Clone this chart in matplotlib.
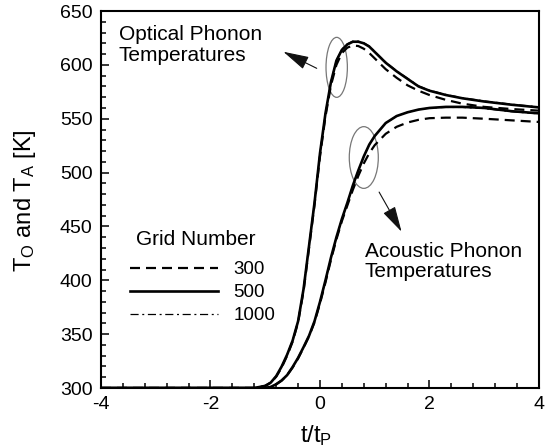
import matplotlib
matplotlib.use('Agg')
import matplotlib.pyplot as plt
from matplotlib.patches import Ellipse
from matplotlib.ticker import MultipleLocator

plt.rcParams['font.family'] = ['Liberation Sans', 'DejaVu Sans']
plt.rcParams['mathtext.fontset'] = 'custom'
plt.rcParams['mathtext.rm'] = 'Liberation Sans'
plt.rcParams['mathtext.it'] = 'Liberation Sans:italic'
plt.rcParams['mathtext.bf'] = 'Liberation Sans:bold'
plt.rcParams['axes.unicode_minus'] = False

# ---------------- data ----------------
t_opt = [-4.0, -1.2, -1.0, -0.9, -0.8, -0.7, -0.6, -0.5, -0.4, -0.3, -0.2, -0.1,
         0.0, 0.1, 0.2, 0.3, 0.4, 0.5, 0.6, 0.7, 0.8, 0.9, 1.0, 1.2, 1.4, 1.6,
         1.8, 2.0, 2.3, 2.6, 3.0, 3.5, 4.0]
opt_500 = [300, 300, 302, 305, 311, 320, 331, 344, 362, 392, 432, 472,
           518, 555, 584, 604, 614, 619, 621.5, 621.5, 620, 617, 612, 602, 594, 587,
           580, 576, 572, 569, 566, 563, 560.5]
opt_300 = [300, 300, 302, 305, 310.5, 319, 330, 343, 361, 390, 430, 470,
           515, 552, 581, 600, 611, 616, 618, 617.5, 615, 611, 606, 596, 588, 581,
           576, 572, 567.5, 564, 561, 559, 557.5]
opt_1000 = [300, 300, 302, 305, 311, 320, 331, 344.5, 362.5, 392.5, 432.5, 472.5,
            518.5, 555.5, 584.5, 604.5, 614.5, 619.5, 622, 622, 620.5, 617.5, 612.5, 602.5, 594.5, 587.5,
            580.5, 576.5, 572.5, 569.5, 566.5, 563.5, 561]

t_ac = [-4.0, -1.0, -0.9, -0.8, -0.7, -0.6, -0.5, -0.4, -0.3, -0.2, -0.1, 0.0,
        0.1, 0.2, 0.3, 0.4, 0.5, 0.6, 0.7, 0.8, 0.9, 1.0, 1.2, 1.4, 1.6, 1.8,
        2.0, 2.3, 2.6, 3.0, 3.5, 4.0]
ac_500 = [300, 300, 301, 303.5, 307, 312, 319.5, 328, 338, 348.5, 362, 380,
          400, 421, 440, 457, 472, 488, 502, 515, 526, 534, 546, 552.5, 556, 558.5,
          560, 561, 561, 560, 557, 555]
ac_300 = [300, 300, 301, 303.5, 307, 312, 319, 327.5, 337.5, 348, 361, 378.5,
          398, 419, 438, 455, 469.5, 484, 497, 508.5, 518, 525.5, 536, 542.5, 546.5, 549,
          550.5, 551, 551, 550, 548.5, 547]
ac_1000 = [300, 300, 301, 303.5, 307, 312, 319.5, 328, 338, 348.5, 362, 380,
           400, 421, 440, 457, 472, 488, 502, 515, 526, 534, 546, 552.5, 556, 558.5,
           560, 560.5, 560.5, 559.5, 556.5, 554.5]

grid_labels = ['300', '500', '1000']
x_ticks = [-4, -2, 0, 2, 4]
y_ticks = [300, 350, 400, 450, 500, 550, 600, 650]

# ---------------- figure ----------------
fig = plt.figure(figsize=(5.51, 4.48), dpi=100)
ax = fig.add_axes([0.1833, 0.1339, 0.7949, 0.8415])

dash_style = dict(color='black', lw=1.6, linestyle=(0, (4.5, 2.7)))
solid_style = dict(color='black', lw=1.9, linestyle='-')
dd_style = dict(color='black', lw=0.9, linestyle=(0, (6.5, 2.9, 1.6, 2.9)))

l300, = ax.plot(t_opt, opt_300, label=grid_labels[0], **dash_style)
l500, = ax.plot(t_opt, opt_500, label=grid_labels[1], **solid_style)
l1000, = ax.plot(t_opt, opt_1000, label=grid_labels[2], **dd_style)
ax.plot(t_ac, ac_300, **dash_style)
ax.plot(t_ac, ac_500, **solid_style)
ax.plot(t_ac, ac_1000, **dd_style)

ax.set_xlim(-4, 4)
ax.set_ylim(300, 650)
ax.set_xticks(x_ticks)
ax.set_xticklabels([str(v) for v in x_ticks])
ax.set_yticks(y_ticks)
ax.set_yticklabels([str(v) for v in y_ticks])
ax.xaxis.set_minor_locator(MultipleLocator(0.4))
ax.yaxis.set_minor_locator(MultipleLocator(10))
ax.tick_params(which='both', direction='in', top=False, right=False, width=1.1)
ax.tick_params(which='major', length=5.5, labelsize=14, pad=6)
ax.tick_params(which='minor', length=3.4)
for s in ax.spines.values():
    s.set_linewidth(1.5)

ax.set_xlabel(r't/t$_{\rm P}$', fontsize=17)
ax.xaxis.set_label_coords(0.49, -0.092)
ax.set_ylabel(r'T$_{\rm O}$ and T$_{\rm A}$ [K]', fontsize=17)
ax.yaxis.set_label_coords(-0.1427, 0.496)

# annotations
ax.text(-3.68, 623.1, 'Optical Phonon', fontsize=15, va='baseline')
ax.text(-3.68, 603.6, 'Temperatures', fontsize=15, va='baseline')
ax.text(0.82, 421.9, 'Acoustic Phonon', fontsize=15, va='baseline')
ax.text(0.82, 402.7, 'Temperatures', fontsize=15, va='baseline')

ax.add_patch(Ellipse((0.305, 597.7), 0.39, 55.7, fill=False, ec='#777777', lw=0.9))
ax.add_patch(Ellipse((0.80, 514.0), 0.53, 57.3, fill=False, ec='#777777', lw=0.9))

arrow = dict(arrowstyle='-|>,head_length=1.6,head_width=0.42', lw=0.8,
             color='#111111', shrinkA=0, shrinkB=0, mutation_scale=10)
ax.annotate('', xy=(-0.67, 612.2), xytext=(-0.06, 596.8), arrowprops=arrow)
ax.annotate('', xy=(1.49, 445.1), xytext=(1.08, 481.9), arrowprops=arrow)

# legend
ax.text(-3.36, 432.7, 'Grid Number', fontsize=15, va='baseline')
ax.legend(handles=[l300, l500, l1000], labels=grid_labels, loc='upper left',
          bbox_to_anchor=(-3.467, 417.6), bbox_transform=ax.transData,
          frameon=False, fontsize=13.5, handlelength=4.7, handletextpad=0.8,
          labelspacing=0.31, borderpad=0, borderaxespad=0)

fig.savefig('out.png', dpi=100)
